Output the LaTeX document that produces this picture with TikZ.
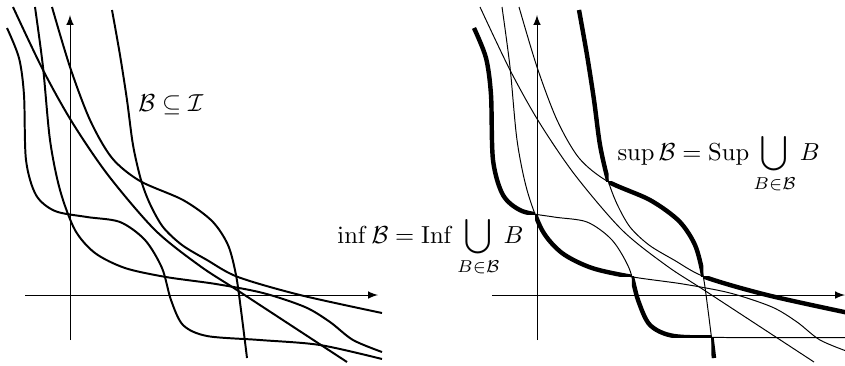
\documentclass[tikz,border=0pt]{standalone}
\usepackage{amsmath}
\usetikzlibrary{intersections}
\tikzset{
  every picture/.style = {x=0.0143cm, y=-0.0143cm},
  axisline/.style={
    ->, >=latex,
    line width=0.4pt
  },
  member/.style={
    line width=0.8pt
  },
  thinmember/.style={
    line width=0.4pt
  },
  bound/.style={
    line width=1.8pt
  },
  formula/.style={
    anchor=base west,
    inner sep=0pt
  }
}
% the five members of the family (pixel-like units, y downwards)
\newcommand{\crvA}[1]{plot[smooth] coordinates {(7,28) (19,58) (24,95) (26,160) (36,195) (55,211) (87,217) (120,222) (145,240) (162,268) (171,300) (183,325) (207,336) #1}}
\newcommand{\crvB}{plot[smooth] coordinates {(13,7) (43,70) (72,122) (108,175) (155,230) (200,266) (240,292) (347,362)}}
\newcommand{\crvC}{plot[smooth] coordinates {(35,7) (43,67) (50,140) (60,190) (75,230) (95,253) (125,268) (166,277) (216,284) (263,293) (305,307) (330,322) (353,340) (382,352)}}
\newcommand{\crvD}{plot[smooth] coordinates {(52,7) (70,67) (90,120) (112,158) (140,181) (183,200) (212,221) (228,245) (236,275) (241,310) (247,358)}}
\newcommand{\crvE}{plot[smooth] coordinates {(112,10) (120,55) (127,100) (133,145) (141,180) (150,204) (163,227) (182,245) (207,260) (238,277) (300,295) (382,313)}}

\begin{document}
\begin{tikzpicture}
    \useasboundingbox (0,0) rectangle (845,365);
    % axes of both panels
    \foreach \sh in {0,467}{
        \draw[axisline] (\sh+25,295) -- (\sh+378,295);
        \draw[axisline] (\sh+70,340) -- (\sh+70,15);
    }
    % left panel: the family B
    \draw[member] \crvA{(260,340) (320,345) (382,359)};
    \draw[member] \crvB;
    \draw[member] \crvC;
    \draw[member] \crvD;
    \draw[member] \crvE;
    \node[formula] (incl) at (138,111) {$\mathcal{B}\subseteq\mathcal{I}$};
    % right panel: family thin, inf and sup thick
    \begin{scope}[shift={(467,0)}]
        \draw[thinmember, name path=A] \crvA{(260,337.5) (380,337.5)};
        \draw[thinmember, name path=B] \crvB;
        \draw[thinmember, name path=C] \crvC;
        \draw[thinmember, name path=D] \crvD;
        \draw[thinmember, name path=E] \crvE;
        \path[name intersections={of=E and D, sort by=E, name=ed}];
        \path[name intersections={of=A and C, sort by=A, name=ac}];
        \path[name intersections={of=A and D, name=ad}];
        % sup
        \begin{scope} \clip (ed-1) rectangle (-50,-50); \draw[bound] \crvE; \end{scope}
        \begin{scope} \clip (ed-1) rectangle (ed-2); \draw[bound] \crvD; \end{scope}
        \begin{scope} \clip (ed-2) rectangle (500,500); \draw[bound] \crvE; \end{scope}
        % inf
        \begin{scope} \clip (ac-1) rectangle (-50,-50); \draw[bound] \crvA{(260,337.5) (380,337.5)}; \end{scope}
        \begin{scope} \clip (ac-1) rectangle (ac-2); \draw[bound] \crvC; \end{scope}
        \begin{scope} \clip (ac-2) rectangle (ad-1); \draw[bound] \crvA{(260,337.5) (380,337.5)}; \end{scope}
        \begin{scope} \clip (ad-1) rectangle (500,500); \draw[bound] \crvD; \end{scope}
    \end{scope}
    \node[formula] (inf) at (337,243) {$\displaystyle\inf\mathcal{B}=\operatorname{Inf}\bigcup_{B\in\mathcal{B}}B$};
    \node[formula] (sup) at (617,160) {$\displaystyle\sup\mathcal{B}=\operatorname{Sup}\bigcup_{B\in\mathcal{B}}B$};
\end{tikzpicture}
\end{document}
